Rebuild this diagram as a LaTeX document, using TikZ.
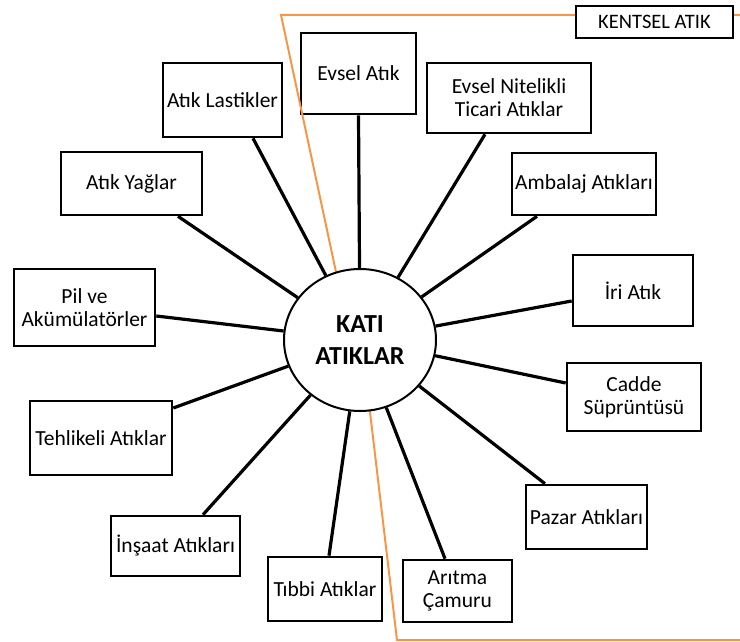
\documentclass[tikz,border=0pt]{standalone}
\usepackage{fontspec}
\setmainfont{Carlito}
\usetikzlibrary{shapes.geometric}
\definecolor{zoneorange}{RGB}{247,150,70}
\begin{document}
\begin{tikzpicture}[x=1pt,y=-1pt,
  wastebox/.style={draw=black, line width=2.6pt, fill=white, inner sep=0pt,
    align=center, font=\fontsize{21.5}{23}\selectfont},
  link/.style={draw=black, line width=3.2pt},
  hub/.style={ellipse, draw=black, line width=2pt, fill=white, inner sep=0pt,
    minimum width=152pt, minimum height=142pt, align=center,
    font=\fontsize{26}{32}\selectfont\bfseries},
  zone/.style={draw=zoneorange, line width=2pt}]
\useasboundingbox (0,0) rectangle (740,642);

% category boxes
\node[wastebox, minimum width=115pt, minimum height=81pt] (evsel) at (358.5,73.5) {Evsel Atık};
\node[wastebox, minimum width=164pt, minimum height=70pt] (nitelikli) at (509,98) {Evsel Nitelikli\\Ticari Atıklar};
\node[wastebox, minimum width=144pt, minimum height=62pt] (ambalaj) at (584,184) {Ambalaj Atıkları};
\node[wastebox, minimum width=120pt, minimum height=71pt] (iri) at (633,290.5) {İri Atık};
\node[wastebox, minimum width=134pt, minimum height=68pt] (cadde) at (634,397) {Cadde\\Süprüntüsü};
\node[wastebox, minimum width=121pt, minimum height=64pt] (pazar) at (586.5,517) {Pazar Atıkları};
\node[wastebox, minimum width=109pt, minimum height=62pt] (aritma) at (457.5,591) {Arıtma\\Çamuru};
\node[wastebox, minimum width=114pt, minimum height=64pt] (tibbi) at (325,589) {Tıbbi Atıklar};
\node[wastebox, minimum width=129pt, minimum height=60pt] (insaat) at (175.5,546) {İnşaat Atıkları};
\node[wastebox, minimum width=142pt, minimum height=74pt] (tehlikeli) at (101,438) {Tehlikeli Atıklar};
\node[wastebox, minimum width=141pt, minimum height=77pt] (pil) at (84.5,307.5) {Pil ve\\Akümülatörler};
\node[wastebox, minimum width=141pt, minimum height=63pt] (yag) at (131.5,183.5) {Atık Yağlar};
\node[wastebox, minimum width=119pt, minimum height=74pt] (lastik) at (222.5,100) {Atık Lastikler};

% orange border of the urban waste zone
\draw[zone] (740,15) -- (281,15) -- (336,272) -- (370,412) -- (397,640) -- (740,640);

% central node
\node[hub] (kati) at (360,340) {KATI\\ATIKLAR};

% spokes from each box towards the centre
\path[link] (evsel.south) -- (kati);
\path[link] ([xshift=-24pt]nitelikli.south) -- (kati);
\path[link] ([xshift=-47pt]ambalaj.south) -- (kati);
\path[link] ([yshift=-10.5pt]iri.west) -- (kati);
\path[link] ([yshift=14pt]cadde.west) -- (kati);
\path[link] ([xshift=-41.5pt]pazar.north) -- (kati);
\path[link] ([xshift=-12.5pt]aritma.north) -- (kati);
\path[link] ([xshift=4pt]tibbi.north) -- (kati);
\path[link] ([xshift=27.5pt]insaat.north) -- (kati);
\path[link] ([yshift=30pt]tehlikeli.east) -- (kati);
\path[link] ([yshift=-8.5pt]pil.east) -- (kati);
\path[link] ([xshift=46.5pt]yag.south) -- (kati);
\path[link] ([xshift=30.5pt]lastik.south) -- (kati);

% zone label
\node[wastebox, minimum width=157pt, minimum height=32pt,
  font=\fontsize{20.5}{23}\selectfont] (kentsel) at (654.5,22) {KENTSEL ATIK};
\end{tikzpicture}
\end{document}
